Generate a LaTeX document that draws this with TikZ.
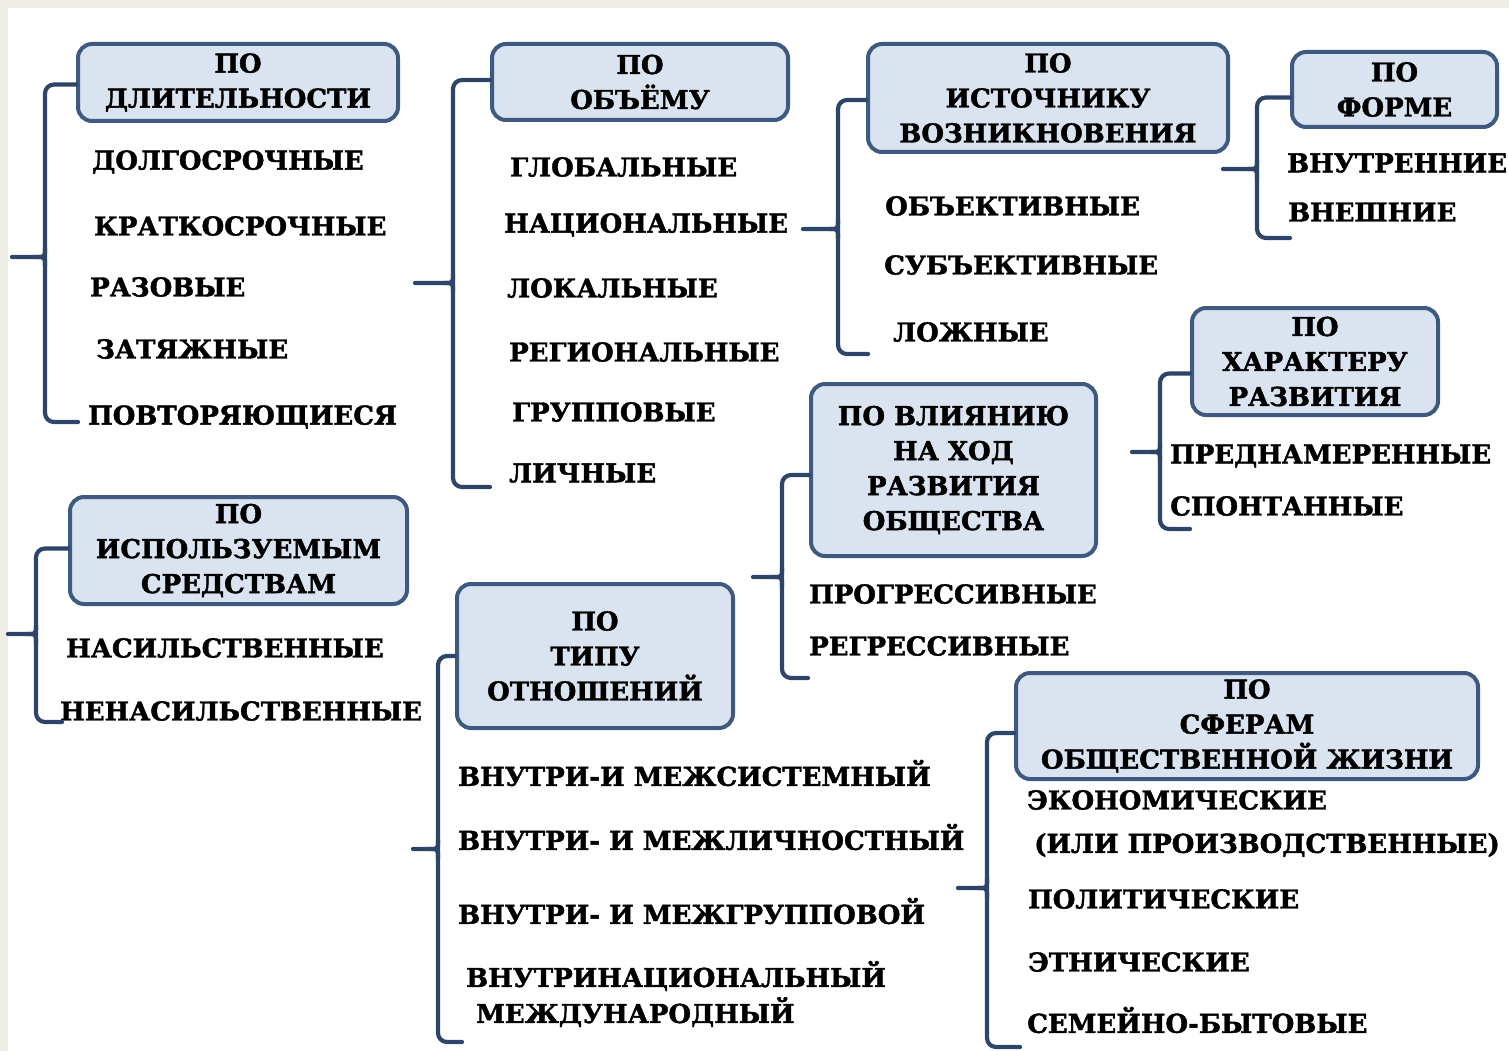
\documentclass[tikz,border=0pt]{standalone}
\usepackage{fontspec}
\setmainfont{DejaVu Serif}
\newfontfamily\capsfont{DejaVu Serif}[FakeBold=1.6]
\usetikzlibrary{calc}

\definecolor{pagebg}{HTML}{EEEDE6}
\definecolor{boxfill}{HTML}{DAE4F0}
\definecolor{boxline}{HTML}{3E5A80}
\definecolor{braceline}{HTML}{2D4569}

\tikzset{
  hdr/.style={draw=boxline, line width=4pt, fill=boxfill, rounded corners=14pt,
    align=center, inner sep=0pt, font=\capsfont\bfseries\fontsize{26}{35}\selectfont},
  itm/.style={anchor=west, inner sep=0pt, font=\capsfont\bfseries\fontsize{26}{35}\selectfont},
  bracket/.style={draw=braceline, line width=4.2pt, rounded corners=9pt, line cap=round},
  stub/.style={draw=braceline, line width=4.2pt, line cap=round},
}

% curly-brace joint: cusp at the spine point #1, stub ending at #2
\newcommand{\cusp}[2]{%
  \draw[stub] ([yshift=-9pt]#1) .. controls (#1) .. ([xshift=-9pt]#1) -- (#2);
  \draw[stub] ([yshift=9pt]#1) .. controls (#1) .. ([xshift=-9pt]#1);
}

\begin{document}
\begin{tikzpicture}[x=1pt, y=-1pt]
\useasboundingbox (0,0) rectangle (1509,1051);
\fill[pagebg] (0,0) rectangle (1509,1051);
\fill[white] (8,8) rectangle (1509,1051);

% ---------- headers ----------
\node[hdr, minimum width=320pt, minimum height=77pt]  (b1) at (238,82.5) {ПО\\ДЛИТЕЛЬНОСТИ};
\node[hdr, minimum width=296pt, minimum height=76pt]  (b2) at (640,82)   {ПО\\ОБЪЁМУ};
\node[hdr, minimum width=360pt, minimum height=108pt] (b3) at (1048,98)  {ПО\\ИСТОЧНИКУ\\ВОЗНИКНОВЕНИЯ};
\node[hdr, minimum width=205pt, minimum height=75pt]  (b4) at (1394.5,89.5) {ПО\\ФОРМЕ};
\node[hdr, minimum width=246pt, minimum height=107pt] (b5) at (1315,361.5) {ПО\\ХАРАКТЕРУ\\РАЗВИТИЯ};
\node[hdr, minimum width=285pt, minimum height=172pt] (b6) at (953.5,470) {ПО ВЛИЯНИЮ\\НА ХОД\\РАЗВИТИЯ\\ОБЩЕСТВА};
\node[hdr, minimum width=337pt, minimum height=107pt] (b7) at (238.5,550.5) {ПО\\ИСПОЛЬЗУЕМЫМ\\СРЕДСТВАМ};
\node[hdr, minimum width=276pt, minimum height=144pt] (b8) at (595,656) {ПО\\ТИПУ\\ОТНОШЕНИЙ};
\node[hdr, minimum width=462pt, minimum height=106pt] (b9) at (1247,726) {ПО\\СФЕРАМ\\ОБЩЕСТВЕННОЙ ЖИЗНИ};

% ---------- items ----------
\node[itm] (a1) at (92,162)  {ДОЛГОСРОЧНЫЕ};
\node[itm] (a2) at (94,226)  {КРАТКОСРОЧНЫЕ};
\node[itm] (a3) at (90,287)  {РАЗОВЫЕ};
\node[itm] (a4) at (96,349)  {ЗАТЯЖНЫЕ};
\node[itm] (a5) at (88,417)  {ПОВТОРЯЮЩИЕСЯ};

\node[itm] (c1) at (510,167) {ГЛОБАЛЬНЫЕ};
\node[itm] (c2) at (504,225) {НАЦИОНАЛЬНЫЕ};
\node[itm] (c3) at (507,288) {ЛОКАЛЬНЫЕ};
\node[itm] (c4) at (509,352) {РЕГИОНАЛЬНЫЕ};
\node[itm] (c5) at (512,412) {ГРУППОВЫЕ};
\node[itm] (c6) at (509,473) {ЛИЧНЫЕ};

\node[itm] (d1) at (885,206) {ОБЪЕКТИВНЫЕ};
\node[itm] (d2) at (884,265) {СУБЪЕКТИВНЫЕ};
\node[itm] (d3) at (893,332) {ЛОЖНЫЕ};

\node[itm] (f1) at (1287,163) {ВНУТРЕННИЕ};
\node[itm] (f2) at (1288,212) {ВНЕШНИЕ};

\node[itm] (h1) at (1170,456) {ПРЕДНАМЕРЕННЫЕ};
\node[itm] (h2) at (1170,506) {СПОНТАННЫЕ};

\node[itm] (g1) at (809,594) {ПРОГРЕССИВНЫЕ};
\node[itm] (g2) at (809,646) {РЕГРЕССИВНЫЕ};

\node[itm] (k1) at (66,648) {НАСИЛЬСТВЕННЫЕ};
\node[itm] (k2) at (60,711) {НЕНАСИЛЬСТВЕННЫЕ};

\node[itm] (t1) at (458,773)  {ВНУТРИ-И МЕЖСИСТЕМНЫЙ};
\node[itm] (t2) at (458,837)  {ВНУТРИ- И МЕЖЛИЧНОСТНЫЙ};
\node[itm] (t3) at (458,911)  {ВНУТРИ- И МЕЖГРУППОВОЙ};
\node[itm] (t4) at (466,976)  {ВНУТРИНАЦИОНАЛЬНЫЙ};
\node[itm] (t5) at (476,1012) {МЕЖДУНАРОДНЫЙ};

\node[itm] (s1) at (1027,800)  {ЭКОНОМИЧЕСКИЕ};
\node[itm] (s2) at (1034,845)  {(ИЛИ ПРОИЗВОДСТВЕННЫЕ)};
\node[itm] (s3) at (1028,899)  {ПОЛИТИЧЕСКИЕ};
\node[itm] (s4) at (1028,962)  {ЭТНИЧЕСКИЕ};
\node[itm] (s5) at (1027,1020) {СЕМЕЙНО-БЫТОВЫЕ};

% ---------- brace joints and free ends ----------
\coordinate (m1) at (45,257);   \coordinate (x1) at (12,257);   \coordinate (e1) at (78,422);
\coordinate (m2) at (453,283);  \coordinate (x2) at (415,283);  \coordinate (e2) at (490,487);
\coordinate (m3) at (838,229);  \coordinate (x3) at (803,229);  \coordinate (e3) at (868,354);
\coordinate (m4) at (1257,169); \coordinate (x4) at (1223,169); \coordinate (e4) at (1290,238);
\coordinate (m5) at (1160,452); \coordinate (x5) at (1132,452); \coordinate (e5) at (1190,529);
\coordinate (m6) at (782,577);  \coordinate (x6) at (753,577);  \coordinate (e6) at (808,678);
\coordinate (m7) at (36,634);   \coordinate (x7) at (8,634);    \coordinate (e7) at (62,722);
\coordinate (m8) at (438,849);  \coordinate (x8) at (413,849);  \coordinate (e8) at (462,1042);
\coordinate (m9) at (987,888);  \coordinate (x9) at (958,888);  \coordinate (e9) at (1020,1047);

% ---------- braces ----------
\draw[bracket] ([yshift=-2pt]b1.west) -| (m1) |- (e1);
\draw[bracket] ([yshift=2pt]b2.west)  -| (m2) |- (e2);
\draw[bracket] ([yshift=-2pt]b3.west) -| (m3) |- (e3);
\draw[bracket] ([yshift=-8pt]b4.west) -| (m4) |- (e4);
\draw[bracket] ([yshift=-12pt]b5.west) -| (m5) |- (e5);
\draw[bracket] ([yshift=-5pt]b6.west) -| (m6) |- (e6);
\draw[bracket] ([yshift=2pt]b7.west)  -| (m7) |- (e7);
\draw[bracket] (b8.west) -| (m8) |- (e8);
\draw[bracket] ([yshift=-7pt]b9.west) -| (m9) |- (e9);

\cusp{m1}{x1}
\cusp{m2}{x2}
\cusp{m3}{x3}
\cusp{m4}{x4}
\cusp{m5}{x5}
\cusp{m6}{x6}
\cusp{m7}{x7}
\cusp{m8}{x8}
\cusp{m9}{x9}
\end{tikzpicture}
\end{document}
